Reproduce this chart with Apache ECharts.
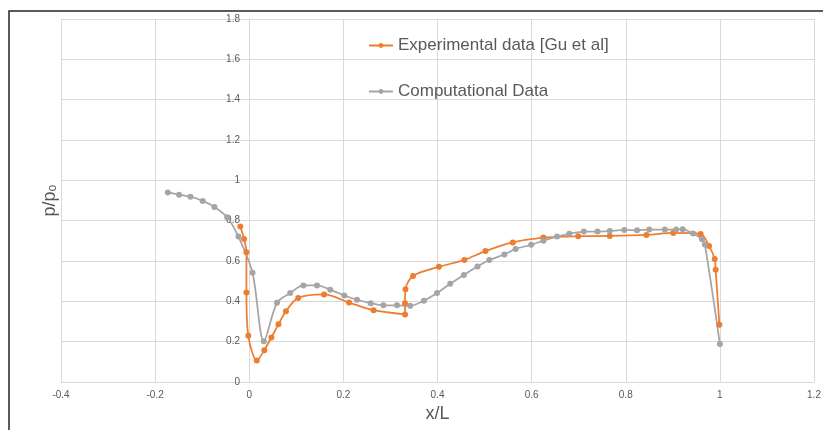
<!DOCTYPE html>
<html>
<head>
<meta charset="utf-8">
<script src="https://cdn.jsdelivr.net/npm/echarts@6/dist/echarts.min.js"></script>
<style>
  html, body { margin: 0; padding: 0; background: #fff; }
  #chart { width: 823px; height: 430px; }
</style>
</head>
<body>
<div id="chart"></div>
<script>
// experimental data [Gu et al]
var expX = [-0.019, -0.011, -0.006, -0.006, -0.002, 0.016, 0.032, 0.047, 0.062, 0.078, 0.104, 0.159,
            0.212, 0.264, 0.331, 0.331, 0.332, 0.348, 0.403, 0.457, 0.502, 0.560, 0.625, 0.699,
            0.766, 0.844, 0.901, 0.959, 0.977, 0.989, 0.991, 0.999];
var expY = [0.771, 0.709, 0.644, 0.444, 0.229, 0.106, 0.158, 0.221, 0.286, 0.351, 0.417, 0.434,
            0.394, 0.356, 0.335, 0.391, 0.460, 0.526, 0.571, 0.605, 0.649, 0.692, 0.716, 0.723,
            0.724, 0.729, 0.739, 0.734, 0.675, 0.610, 0.556, 0.284];

// computational data
var compX = [-0.173, -0.149, -0.125, -0.099, -0.074, -0.047, -0.023, 0.007, 0.031, 0.059, 0.087, 0.115,
             0.144, 0.172, 0.202, 0.229, 0.258, 0.285, 0.314, 0.342, 0.371, 0.399, 0.427, 0.456,
             0.485, 0.510, 0.542, 0.566, 0.599, 0.625, 0.654, 0.680, 0.711, 0.740, 0.766, 0.797,
             0.824, 0.850, 0.883, 0.907, 0.921, 0.943, 0.962, 0.968, 1.000];
var compY = [0.940, 0.929, 0.919, 0.898, 0.868, 0.817, 0.721, 0.542, 0.202, 0.393, 0.441, 0.479,
             0.479, 0.458, 0.429, 0.408, 0.391, 0.380, 0.380, 0.378, 0.403, 0.441, 0.487, 0.531,
             0.573, 0.605, 0.632, 0.660, 0.680, 0.701, 0.721, 0.735, 0.746, 0.746, 0.749, 0.754,
             0.752, 0.756, 0.756, 0.756, 0.757, 0.736, 0.708, 0.682, 0.189];

function pairs(xs, ys) {
    return xs.map(function (x, i) { return [x, ys[i]]; });
}

var myChart = echarts.init(document.getElementById('chart'));

var gridColor = '#d9d9d9';
var textColor = '#595959';
var font = 'Liberation Sans';

option = {
    backgroundColor: '#fff',
    animation: false,
    grid: {
        left: 61,
        right: 9,
        top: 19,
        bottom: 48,
        containLabel: false,
        outerBoundsMode: 'none'
    },
    legend: {
        left: 363,
        top: 32,
        orient: 'vertical',
        itemGap: 29,
        itemWidth: 24,
        itemHeight: 6,
        textStyle: { color: textColor, fontSize: 17, fontFamily: font },
        data: ['Experimental data [Gu et al]', 'Computational Data']
    },
    xAxis: {
        type: 'value',
        min: -0.4,
        max: 1.2,
        interval: 0.2,
        name: 'x/L',
        nameLocation: 'middle',
        nameGap: 23,
        nameTextStyle: { color: textColor, fontSize: 18, fontFamily: font },
        axisLine: { onZero: false, lineStyle: { color: gridColor } },
        axisTick: { show: false },
        axisLabel: {
            color: textColor, fontSize: 10, fontFamily: font, margin: 8,
            formatter: function (v) { return +v.toFixed(1) + ''; }
        },
        splitLine: { lineStyle: { color: gridColor } }
    },
    yAxis: {
        type: 'value',
        min: 0,
        max: 1.8,
        interval: 0.2,
        // axis drawn at x = 0, as in the original
        offset: -188,
        name: 'p/pₒ',
        nameLocation: 'middle',
        nameGap: 190,
        nameTextStyle: { color: textColor, fontSize: 18, fontFamily: font },
        axisLine: { onZero: false, lineStyle: { color: gridColor } },
        axisTick: { show: false },
        axisLabel: {
            color: textColor, fontSize: 10, fontFamily: font, margin: 9,
            formatter: function (v) { return +v.toFixed(1) + ''; }
        },
        splitLine: { lineStyle: { color: gridColor } }
    },
    graphic: [
        {
            type: 'polyline',
            shape: { points: [[9, 430], [9, 11], [823, 11]] },
            style: { stroke: '#262626', lineWidth: 1.5, fill: null }
        }
    ],
    series: [
        {
            name: 'Experimental data [Gu et al]',
            type: 'line',
            smooth: 0.3,
            symbol: 'circle',
            symbolSize: 6,
            color: '#ed7d31',
            lineStyle: { width: 1.75 },
            data: pairs(expX, expY)
        },
        {
            name: 'Computational Data',
            type: 'line',
            smooth: 0.3,
            symbol: 'circle',
            symbolSize: 6,
            color: '#a5a5a5',
            lineStyle: { width: 1.75 },
            data: pairs(compX, compY)
        }
    ]
};

myChart.setOption(option);
</script>
</body>
</html>
